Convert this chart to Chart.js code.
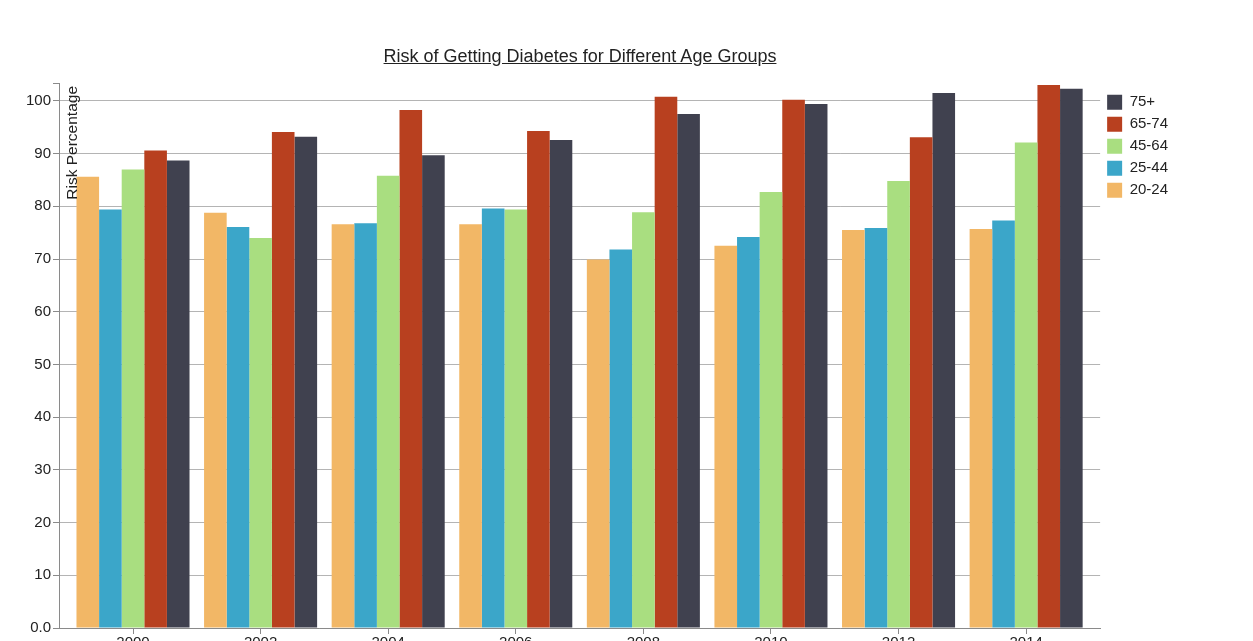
<!DOCTYPE html>
<html>
<head>
<meta charset="utf-8">
<script src="https://cdn.jsdelivr.net/npm/chart.js@4.4.1/dist/chart.umd.min.js"></script>
<style>
  html, body { margin: 0; padding: 0; background: #fff; overflow: hidden; width: 1253px; height: 641px; }
  #wrap { position: absolute; left: 0; top: 0; width: 1253px; height: 652px; }
  #title {
    position: absolute; top: 46px; left: 0; width: 1160px; text-align: center;
    font: 18px "Liberation Sans", Arial, Helvetica, sans-serif; color: #222;
    text-decoration: underline;
  }
</style>
</head>
<body>
<div id="wrap"><canvas id="chart" width="1253" height="652"></canvas></div>
<div id="title">Risk of Getting Diabetes for Different Age Groups</div>
<script>
// Survey years along the x axis
const years = ['2000', '2002', '2004', '2006', '2008', '2010', '2012', '2014'];

// Risk percentage per age group, one value per year
const age20to24 = [85.6, 78.8, 76.6, 76.6, 69.9, 72.5, 75.5, 75.7];
const age25to44 = [79.4, 76.1, 76.8, 79.6, 71.8, 74.2, 75.9, 77.3];
const age45to64 = [87.0, 74.0, 85.8, 79.4, 78.9, 82.7, 84.8, 92.1];
const age65to74 = [90.6, 94.1, 98.3, 94.3, 100.8, 100.2, 93.1, 103.0];
const age75plus = [88.7, 93.2, 89.7, 92.6, 97.5, 99.4, 101.5, 102.3];

const groupNames = ['20-24', '25-44', '45-64', '65-74', '75+'];
const groupColors = ['#f2b766', '#3ba6c9', '#a9de80', '#b8401f', '#40414f'];
const groupValues = [age20to24, age25to44, age45to64, age65to74, age75plus];

const yTicks = [0, 10, 20, 30, 40, 50, 60, 70, 80, 90, 100];
const yTitle = 'Risk Percentage';
const yMax = 103.4;

const FONT = '"Liberation Sans", Arial, Helvetica, sans-serif';
const TEXT = '#222';
const AXIS = '#8a8a8a';
const GRID = '#b4b4b4';

const datasets = groupNames.map((name, g) => ({
  label: name,
  data: years.map((_, i) => ({ x: i, y: groupValues[g][i] })),
  backgroundColor: groupColors[g],
  borderWidth: 0,
  categoryPercentage: 0.886,
  barPercentage: 1.0
}));

// Rotated y-axis caption drawn inside the plot, reading upward from the top
const axisCaption = {
  id: 'axisCaption',
  afterDraw(chart) {
    const { ctx, chartArea } = chart;
    ctx.save();
    ctx.translate(chartArea.left + 18, chartArea.top + 3);
    ctx.rotate(-Math.PI / 2);
    ctx.font = '15.5px ' + FONT;
    ctx.fillStyle = TEXT;
    ctx.textAlign = 'right';
    ctx.textBaseline = 'alphabetic';
    ctx.fillText(yTitle, 0, 0);
    ctx.restore();
  }
};

new Chart(document.getElementById('chart'), {
  type: 'bar',
  data: { datasets },
  plugins: [axisCaption],
  options: {
    responsive: false,
    animation: false,
    devicePixelRatio: 1,
    layout: { padding: { top: 83, left: 0, right: 75, bottom: 0 } },
    plugins: {
      title: { display: false },
      tooltip: { enabled: false },
      legend: {
        position: 'right',
        align: 'start',
        reverse: true,
        title: { display: true, text: '', font: { size: 4 }, padding: 0 },
        labels: {
          boxWidth: 15,
          boxHeight: 15,
          padding: 7,
          color: TEXT,
          font: { family: FONT, size: 15 }
        }
      }
    },
    scales: {
      x: {
        type: 'linear',
        bounds: 'data',
        min: -0.58,
        max: 7.58,
        offset: false,
        afterBuildTicks(scale) {
          scale.ticks = years.map((_, i) => ({ value: i }));
        },
        ticks: {
          autoSkip: false,
          maxRotation: 0,
          padding: 0,
          color: TEXT,
          font: { family: FONT, size: 15 },
          callback: (v) => years[v]
        },
        grid: { drawOnChartArea: false, offset: false, tickLength: 6, color: AXIS },
        border: { color: AXIS }
      },
      y: {
        min: 0,
        max: yMax,
        bounds: 'data',
        afterFit(scale) { scale.width = 59; },
        afterBuildTicks(scale) {
          scale.ticks = yTicks.map(v => ({ value: v })).concat([{ value: yMax }]);
        },
        ticks: {
          padding: 2,
          color: TEXT,
          font: { family: FONT, size: 15 },
          callback: (v) => (v === 0 ? '0.0' : (yTicks.includes(v) ? String(v) : ''))
        },
        grid: {
          tickLength: 6,
          tickColor: AXIS,
          color: (ctx) => (ctx.tick && !yTicks.includes(ctx.tick.value) ? 'rgba(0,0,0,0)' : GRID)
        },
        border: { color: AXIS }
      }
    }
  }
});
</script>
</body>
</html>
